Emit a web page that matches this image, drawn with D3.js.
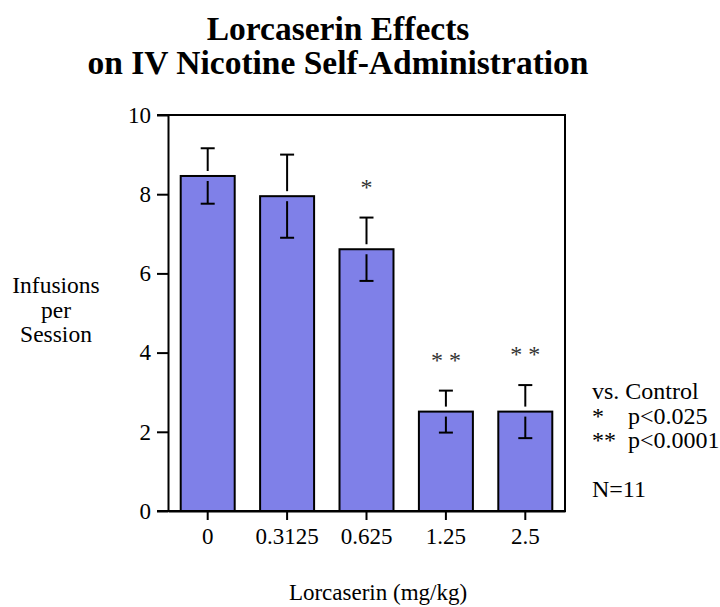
<!DOCTYPE html>
<html>
<head>
<meta charset="utf-8">
<script src="https://cdn.jsdelivr.net/npm/d3@7"></script>
<style>
  body { margin: 0; background: #fff; }
  svg text { font-family: "Liberation Serif", serif; fill: #000; }
</style>
</head>
<body>
<div id="chart-area"></div>
<script>
// Data
let doses = ["0", "0.3125", "0.625", "1.25", "2.5"];
let means = [8.46, 7.95, 6.61, 2.51, 2.51];
let sems = [0.70, 1.05, 0.80, 0.53, 0.67];
let stars = ["", "", "*", "* *", "* *"];
let yTicks = [0, 2, 4, 6, 8, 10];
let legendLines = ["vs. Control", "*", "**", "", "N=11"];
let legendP = ["", "p<0.025", "p<0.0001", "", ""];

let width = 720,
	height = 607;
let serif = "'Liberation Serif', serif";

let data = doses.map((d, i) => ({dose: d, mean: means[i], sem: sems[i], star: stars[i]}));

let svg = d3.select("#chart-area").append("svg")
	.attr("width", width)
	.attr("height", height);

// Title
let title = svg.append("text")
	.attr("text-anchor", "middle")
	.style("font-family", serif)
	.style("font-size", "33.5px")
	.style("font-weight", "bold");
title.append("tspan").attr("x", 338).attr("y", 40).text("Lorcaserin Effects");
title.append("tspan").attr("x", 338).attr("y", 74).text("on IV Nicotine Self-Administration");

// Scales
let x = d3.scaleBand()
	.domain(doses)
	.range([168, 565])
	.paddingInner(0.32)
	.paddingOuter(0.16);

let y = d3.scaleLinear()
	.domain([0, 10])
	.range([511, 115]);

// Bars
svg.selectAll("rect.bar")
	.data(data)
	.enter()
	.append("rect")
	.attr("class", "bar")
	.attr("x", d => x(d.dose))
	.attr("y", d => y(d.mean))
	.attr("width", x.bandwidth())
	.attr("height", d => y(0) - y(d.mean))
	.attr("fill", "#7f80e8")
	.attr("stroke", "#000")
	.attr("stroke-width", 2);

// Error bars (gap around the bar top)
let gap = 5, capW = 14;
let cx = d => x(d.dose) + x.bandwidth() / 2;
let eb = svg.selectAll("g.err")
	.data(data)
	.enter()
	.append("g")
	.attr("class", "err")
	.attr("stroke", "#000")
	.attr("stroke-width", 2);

eb.append("line")
	.attr("x1", cx).attr("x2", cx)
	.attr("y1", d => y(d.mean + d.sem))
	.attr("y2", d => y(d.mean) - gap);
eb.append("line")
	.attr("x1", cx).attr("x2", cx)
	.attr("y1", d => y(d.mean) + gap)
	.attr("y2", d => y(d.mean - d.sem));
eb.append("line")
	.attr("x1", d => cx(d) - capW / 2)
	.attr("x2", d => cx(d) + capW / 2)
	.attr("y1", d => y(d.mean + d.sem))
	.attr("y2", d => y(d.mean + d.sem));
eb.append("line")
	.attr("x1", d => cx(d) - capW / 2)
	.attr("x2", d => cx(d) + capW / 2)
	.attr("y1", d => y(d.mean - d.sem))
	.attr("y2", d => y(d.mean - d.sem));

// Significance stars
svg.selectAll("text.star")
	.data(data)
	.enter()
	.append("text")
	.attr("class", "star")
	.attr("x", cx)
	.attr("y", d => y(d.mean + d.sem) - 23)
	.attr("text-anchor", "middle")
	.style("font-family", serif)
	.style("font-size", "24px")
	.style("fill", "#333")
	.text(d => d.star);

// Axes
let yAxis = d3.axisLeft(y)
	.tickValues(yTicks)
	.tickSize(11)
	.tickPadding(6)
	.tickSizeOuter(0);

let xAxis = d3.axisBottom(x)
	.tickSize(9)
	.tickPadding(8)
	.tickSizeOuter(0);

let gy = svg.append("g")
	.attr("transform", "translate(168,0)")
	.call(yAxis);

let gx = svg.append("g")
	.attr("transform", "translate(0,511)")
	.call(xAxis);

[gx, gy].forEach(g => {
	g.attr("font-family", null);
	g.selectAll("path, line").attr("stroke", "#000").attr("stroke-width", 2);
	g.selectAll("text")
		.style("font-family", serif)
		.style("font-size", "23px");
});

// Frame: extend top and bottom lines to the outer ticks, add right edge
svg.append("path")
	.attr("d", "M157," + y(10) + "H565V" + y(0) + "H157")
	.attr("fill", "none")
	.attr("stroke", "#000")
	.attr("stroke-width", 2);

// Y-axis label
let yl = svg.append("text")
	.attr("text-anchor", "middle")
	.style("font-family", serif)
	.style("font-size", "23.5px");
["Infusions", "per", "Session"].forEach((t, i) => {
	yl.append("tspan").attr("x", 56).attr("y", 293 + i * 24.5).text(t);
});

// X-axis label
svg.append("text")
	.attr("x", 378)
	.attr("y", 600)
	.attr("text-anchor", "middle")
	.style("font-family", serif)
	.style("font-size", "23px")
	.text("Lorcaserin (mg/kg)");

// Legend notes
legendLines.forEach((t, i) => {
	let yy = 399 + i * 24.5;
	svg.append("text").attr("x", 592).attr("y", yy)
		.style("font-family", serif).style("font-size", "24px").text(t);
	if (legendP[i]) {
		svg.append("text").attr("x", 628).attr("y", yy)
			.style("font-family", serif).style("font-size", "24px").text(legendP[i]);
	}
});
</script>
</body>
</html>
